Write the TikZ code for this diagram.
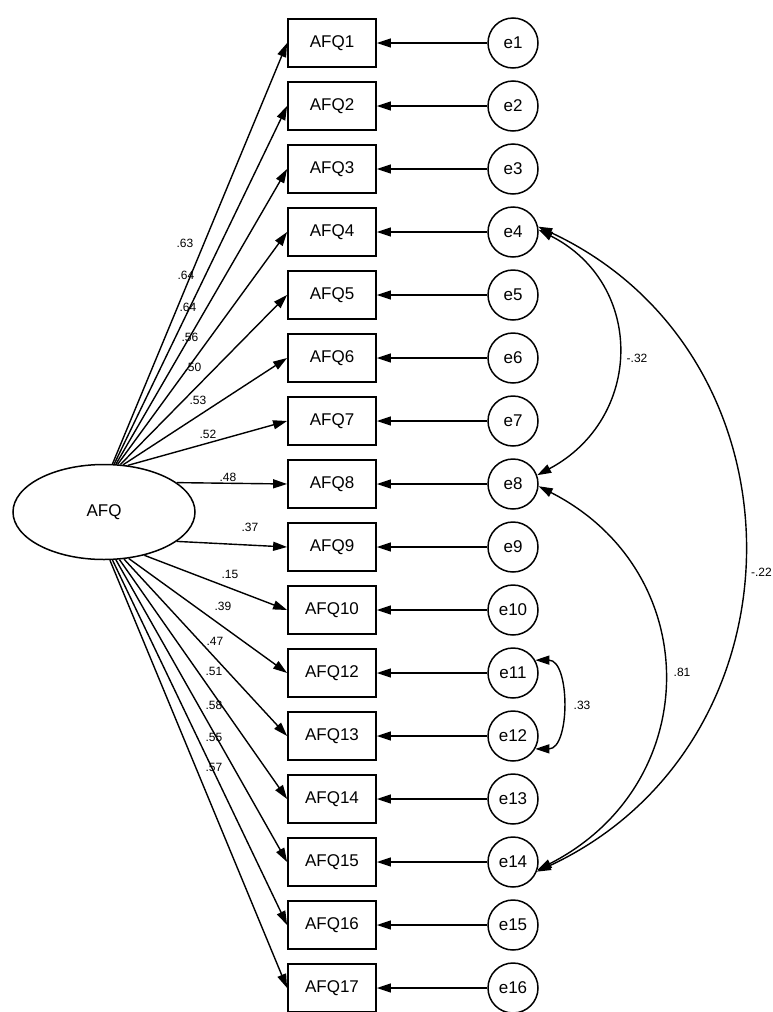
\documentclass[tikz,border=0pt]{standalone}
\usepackage{fontspec}
\setmainfont{Liberation Sans}
\usetikzlibrary{arrows.meta,shapes.geometric}
\tikzset{
  obs/.style={draw, line width=1.8pt, rectangle, minimum width=88pt, minimum height=48pt, inner sep=0pt, font=\fontsize{17}{19}\selectfont},
  errc/.style={draw, line width=1.5pt, circle, minimum size=50pt, inner sep=0pt, font=\fontsize{17}{19}\selectfont},
  lat/.style={draw, line width=1.5pt, ellipse, minimum width=182pt, minimum height=95pt, inner sep=0pt, font=\fontsize{17}{19}\selectfont},
  load/.style={line width=1.4pt, -{Triangle[length=14pt,width=9pt]}},
  errarr/.style={line width=1.4pt, -{Triangle[length=14pt,width=9pt]}},
  cov/.style={line width=1.4pt, {Triangle[length=14pt,width=9pt]}-{Triangle[length=14pt,width=9pt]}},
  lab/.style={font=\fontsize{12}{13}\selectfont, inner sep=0pt}
}
\begin{document}
\begin{tikzpicture}[x=1pt,y=-1pt]
\useasboundingbox (0,0) rectangle (773,1012);
% latent
\node[lat] (A) at (104,512) {AFQ};
% observed boxes
\node[obs] (Q1)  at (332,43)  {AFQ1};
\node[obs] (Q2)  at (332,106) {AFQ2};
\node[obs] (Q3)  at (332,169) {AFQ3};
\node[obs] (Q4)  at (332,232) {AFQ4};
\node[obs] (Q5)  at (332,295) {AFQ5};
\node[obs] (Q6)  at (332,358) {AFQ6};
\node[obs] (Q7)  at (332,421) {AFQ7};
\node[obs] (Q8)  at (332,484) {AFQ8};
\node[obs] (Q9)  at (332,547) {AFQ9};
\node[obs] (Q10) at (332,610) {AFQ10};
\node[obs] (Q12) at (332,673) {AFQ12};
\node[obs] (Q13) at (332,736) {AFQ13};
\node[obs] (Q14) at (332,799) {AFQ14};
\node[obs] (Q15) at (332,862) {AFQ15};
\node[obs] (Q16) at (332,925) {AFQ16};
\node[obs] (Q17) at (332,988) {AFQ17};
% error circles
\node[errc] (e1)  at (513,43)  {e1};
\node[errc] (e2)  at (513,106) {e2};
\node[errc] (e3)  at (513,169) {e3};
\node[errc] (e4)  at (513,232) {e4};
\node[errc] (e5)  at (513,295) {e5};
\node[errc] (e6)  at (513,358) {e6};
\node[errc] (e7)  at (513,421) {e7};
\node[errc] (e8)  at (513,484) {e8};
\node[errc] (e9)  at (513,547) {e9};
\node[errc] (e10) at (513,610) {e10};
\node[errc] (e11) at (513,673) {e11};
\node[errc] (e12) at (513,736) {e12};
\node[errc] (e13) at (513,799) {e13};
\node[errc] (e14) at (513,862) {e14};
\node[errc] (e15) at (513,925) {e15};
\node[errc] (e16) at (513,988) {e16};
% error arrows
\foreach \e/\q in {e1/Q1,e2/Q2,e3/Q3,e4/Q4,e5/Q5,e6/Q6,e7/Q7,e8/Q8,e9/Q9,e10/Q10,e11/Q12,e12/Q13,e13/Q14,e14/Q15,e15/Q16,e16/Q17}
  \draw[errarr] (\e) -- (\q.east);
% loadings
\foreach \q/\a in {Q1/80,Q2/78,Q3/76,Q4/74,Q5/71,Q6/68,Q7/63,Q8/22,Q9/-22,Q10/-47,Q12/-62,Q13/-67,Q14/-72,Q15/-76,Q16/-80,Q17/-83}
  \draw[load] (A.\a) -- (\q.west);
% loading labels
\node[lab] (l1)  at (185,243) {.63};
\node[lab] (l2)  at (186,275) {.64};
\node[lab] (l3)  at (188,307) {.64};
\node[lab] (l4)  at (190,337) {.56};
\node[lab] (l5)  at (193,367) {.50};
\node[lab] (l6)  at (198,400) {.53};
\node[lab] (l7)  at (208,434) {.52};
\node[lab] (l8)  at (228,477) {.48};
\node[lab] (l9)  at (250,527) {.37};
\node[lab] (l10) at (230,574) {.15};
\node[lab] (l12) at (223,606) {.39};
\node[lab] (l13) at (215,641) {.47};
\node[lab] (l14) at (214,671) {.51};
\node[lab] (l15) at (214,705) {.58};
\node[lab] (l16) at (214,737) {.55};
\node[lab] (l17) at (214,767) {.57};
% covariances
\draw[cov] (e4.5) to[out=-27,in=28,looseness=1.25] (e8.20);
\draw[cov] (e4.12) to[out=-25,in=25,looseness=1.2] (e14.-22);
\draw[cov] (e8.-5) to[out=-27,in=27,looseness=1.25] (e14.-18);
\draw[cov] (e11.30) .. controls +(35,0) and +(35,0) .. (e12.-30);
\node[lab] (c1) at (637,358) {-.32};
\node[lab, anchor=east] (c2) at (772,572) {-.22};
\node[lab] (c3) at (682,672) {.81};
\node[lab] (c4) at (582,705) {.33};
\end{tikzpicture}
\end{document}
